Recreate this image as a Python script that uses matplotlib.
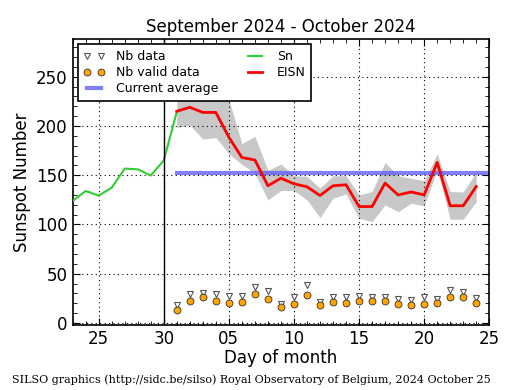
import numpy as np
import matplotlib
matplotlib.use("Agg")
import matplotlib.pyplot as plt
import matplotlib.dates as mdates

# ---- data ----
sn_dates = np.arange(np.datetime64('2024-09-23'), np.datetime64('2024-10-02'))
sn_values = [123.7, 134, 129.3, 137.3, 156.7, 156, 149.7, 165, 214.5]

eisn_dates = np.arange(np.datetime64('2024-10-01'), np.datetime64('2024-10-25'))
eisn_values = [215, 219, 213.8, 213.8, 188.6, 168, 165.5, 139.3, 147, 141.3, 138.3, 129.4,
               139.3, 140.3, 118.2, 118.2, 142, 130, 133, 130, 163, 119, 119, 138.6]
eisn_upper = [232, 236, 240, 238, 227, 182, 189.6, 155, 161.4, 149.5, 148.8, 137,
              149.5, 149.5, 130, 133.5, 163, 149.5, 146.8, 144.5, 171.6, 133.5, 133, 152.9]
eisn_lower = [198.3, 201, 186.7, 188.3, 172, 161, 152, 125, 134.5, 134.5, 125, 107,
              126.7, 131, 106.3, 102.9, 119.9, 113, 121.6, 118.9, 155.6, 105.3, 105.3, 123.3]
nb_data = [18.2, 29, 30.4, 29, 27.7, 27.7, 36.5, 32.1, 19.6, 26.3, 38.3, 21.2,
           26.3, 26.3, 27.3, 26.3, 26.3, 24.7, 23.7, 26.3, 24.7, 33.9, 31.8, 25.7]
nb_valid = [13.5, 22.3, 26.3, 22.3, 20.2, 21.2, 29.4, 24.3, 16.1, 19.2, 28.4, 18.2,
            21.2, 20.2, 22.3, 22.3, 22.3, 19.2, 18.2, 19.2, 20.2, 26.3, 26.3, 20.2]
current_average = 152.3
avg_span = [np.datetime64('2024-10-01'), np.datetime64('2024-10-25')]
month_boundary = np.datetime64('2024-09-30')
x_range = [np.datetime64('2024-09-23'), np.datetime64('2024-10-25')]

title = "September 2024 - October 2024"
xlabel = "Day of month"
ylabel = "Sunspot Number"
footer = "SILSO graphics (http://sidc.be/silso) Royal Observatory of Belgium, 2024 October 25"

# ---- figure ----
fig = plt.figure(figsize=(5.15, 3.9), dpi=100)
ax = fig.add_axes([0.141, 0.167, 0.809, 0.732])

ax.fill_between(eisn_dates, eisn_lower, eisn_upper, color='#c8c8c8', linewidth=0, zorder=1)
ax.plot(avg_span, [current_average, current_average], color='#6060ff', alpha=0.8, lw=3,
        label='Current average', zorder=2)
ax.plot(sn_dates, sn_values, color='#33cc33', lw=1.5, label='Sn', zorder=3)
ax.plot(eisn_dates, eisn_values, color='red', lw=2, label='EISN', zorder=4)
ax.plot(eisn_dates, nb_data, linestyle='none', marker='v', ms=4.5, mfc='white',
        mec='#555555', mew=0.8, label='Nb data', zorder=5)
ax.plot(eisn_dates, nb_valid, linestyle='none', marker='o', ms=5, mfc='#ffa500',
        mec='#333333', mew=0.6, label='Nb valid data', zorder=6)
ax.axvline(month_boundary, color='black', lw=1, zorder=3)

ax.set_xlim(x_range[0], x_range[1])
ax.set_ylim(-2, 288)
ax.xaxis.set_major_locator(mdates.DayLocator(bymonthday=[5, 10, 15, 20, 25, 30]))
ax.xaxis.set_major_formatter(mdates.DateFormatter('%d'))
ax.xaxis.set_minor_locator(mdates.DayLocator())
ax.set_yticks([0, 50, 100, 150, 200, 250])
ax.yaxis.set_minor_locator(matplotlib.ticker.MultipleLocator(10))
ax.tick_params(which='both', direction='in', top=True, right=True, labelsize=12)
ax.tick_params(which='major', length=5, width=0.8)
ax.tick_params(which='minor', length=3, width=0.6)
ax.grid(True, which='major', linestyle=(0, (1, 3)), color='black', lw=0.8)
for s in ax.spines.values():
    s.set_linewidth(1.2)

ax.set_title(title, fontsize=12, pad=5)
ax.set_xlabel(xlabel, fontsize=12, labelpad=1)
ax.set_ylabel(ylabel, fontsize=12)

handles, labels = ax.get_legend_handles_labels()
order = [labels.index(l) for l in ['Nb data', 'Nb valid data', 'Current average', 'Sn', 'EISN']]
leg = ax.legend([handles[i] for i in order], [labels[i] for i in order], loc='upper left',
                ncol=2, numpoints=2, fontsize=9, fancybox=False, framealpha=1,
                edgecolor='black', borderaxespad=0.4, handlelength=1.7, handletextpad=0.9,
                columnspacing=2.1, labelspacing=0.25, borderpad=0.45)
leg.get_frame().set_linewidth(1.2)
leg.set_zorder(10)

fig.text(0.023, 0.012, footer, family='DejaVu Serif', fontsize=8.0, ha='left', va='bottom')

fig.savefig('out.png', dpi=100)
